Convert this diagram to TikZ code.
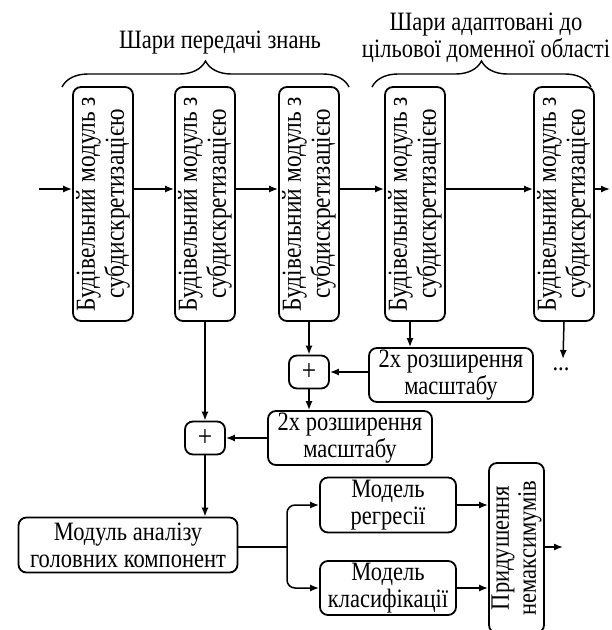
\documentclass[tikz,border=0pt]{standalone}
\usepackage{fontspec}
\setmainfont[FakeStretch=0.85]{Liberation Serif}
\usetikzlibrary{arrows.meta,decorations.pathreplacing,calc}
\begin{document}
\begin{tikzpicture}[x=1pt,y=-1pt,
  font=\fontsize{26.5}{27}\selectfont,
  box/.style={draw,line width=1.8pt,rounded corners=8pt,align=center,inner sep=0pt},
  vbox/.style={box,rotate=90,minimum width=234pt,minimum height=60pt,font=\fontsize{27.5}{29}\selectfont},
  plusbox/.style={box,minimum width=40pt,minimum height=33pt,font=\fontsize{30}{30}\selectfont},
  wbox/.style={box,minimum width=164pt,minimum height=54pt},
  conn/.style={line width=1.5pt,-{Latex[length=9pt,width=7pt]}},
  plainline/.style={line width=1.5pt},
  brc/.style={line width=1.4pt,decorate,decoration={brace,amplitude=26pt}}]
\useasboundingbox (0,0) rectangle (612,630);
% top row
\node[vbox] (b1) at (103,204) {Будівельний модуль з\\субдискретизацією};
\node[vbox] (b2) at (205,204) {Будівельний модуль з\\субдискретизацією};
\node[vbox] (b3) at (309,204) {Будівельний модуль з\\субдискретизацією};
\node[vbox] (b4) at (415,204) {Будівельний модуль з\\субдискретизацією};
\node[vbox] (b5) at (564,204) {Будівельний модуль з\\субдискретизацією};
\coordinate (in) at (39,189);
\coordinate (out) at (610,189);
\draw[conn] (in) -- (b1.north |- in);
\draw[conn] (b1.south |- in) -- (b2.north |- in);
\draw[conn] (b2.south |- in) -- (b3.north |- in);
\draw[conn] (b3.south |- in) -- (b4.north |- in);
\draw[conn] (b4.south |- in) -- (b5.north |- in);
\draw[conn] (b5.south |- in) -- (out);
% braces
\coordinate (br1a) at (62,87);
\coordinate (br1b) at (349,87);
\coordinate (br2a) at (372,87);
\coordinate (br2b) at (591,87);
\draw[brc] (br1a) -- (br1b);
\draw[brc] (br2a) -- (br2b);
\node[align=center] (t1) at (220,43) {Шари передачі знань};
\node[align=center] (t2) at (486,38) {Шари адаптовані до\\цільової доменної області};
% middle
\node[plusbox] (p1) at (309,372) {+};
\node[wbox] (u1) at (451,375) {2x розширення\\масштабу};
\node[plusbox] (p2) at (205,438) {+};
\node[wbox] (u2) at (350,438) {2x розширення\\масштабу};
\node (dots) at (561,369) {...};
\coordinate (d5) at (563,359);
\coordinate (b4o) at ($(b4.west)+(-5,0)$);
\draw[conn] (b3.west) -- (p1.north);
\draw[conn] (b4o) -- (b4o |- u1.north);
\draw[conn] (b5.west) -- (d5);
\draw[conn] (u1.west |- p1.east) -- (p1.east);
\draw[conn] (p1.south) -- (p1.south |- u2.north);
\draw[conn] (b2.west) -- (p2.north);
\draw[conn] (u2.west |- p2.east) -- (p2.east);
% bottom
\node[box,minimum width=219pt,minimum height=55pt] (pca) at (128,545) {Модуль аналізу\\головних компонент};
\node[box,minimum width=136pt,minimum height=55pt] (reg) at (388,505) {Модель\\регресії};
\node[box,minimum width=136pt,minimum height=54pt] (cls) at (388,588) {Модель\\класифікації};
\node[box,rotate=90,minimum width=170pt,minimum height=55pt] (nms) at (516.5,548) {Придушення\\немаксимумів};
\draw[conn] (p2.south) -- (p2.south |- pca.north);
\coordinate (split) at (287,547);
\draw[plainline] (pca.east |- split) -- (split);
\draw[conn,rounded corners=8pt] (split) |- (reg.west);
\draw[conn,rounded corners=8pt] (split) |- (cls.west);
\draw[conn] (reg.east) -- (reg.east -| nms.north);
\draw[conn] (cls.east) -- (cls.east -| nms.north);
\coordinate (fin) at (563,547);
\draw[conn] (nms.south |- fin) -- (fin);
\end{tikzpicture}
\end{document}
